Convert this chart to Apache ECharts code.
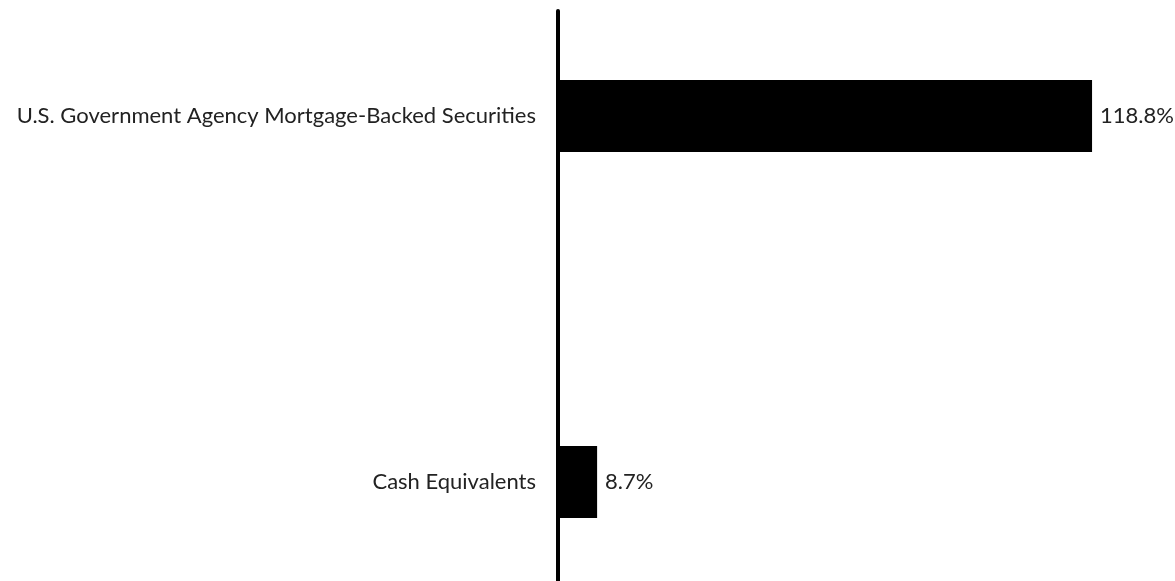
<!DOCTYPE html>
<html>
<head>
<meta charset="utf-8">
<script src="https://cdn.jsdelivr.net/npm/echarts@6/dist/echarts.min.js"></script>
<style>html,body{margin:0;padding:0;background:#fff;}#c{width:1175px;height:581px;}</style>
</head>
<body>
<div id="c"></div>
<script>
const categories = ['U.S. Government Agency Mortgage-Backed Securities', 'Cash Equivalents'];
const values = [118.8, 8.7];

const chart = echarts.init(document.getElementById('c'));
const font = 'Lato, "Noto Sans", sans-serif';
chart.setOption({
  animation: false,
  grid: [
    { left: 558, right: 32.6, top: 116, bottom: 99 },
    { left: 558, right: 32.6, top: 11, bottom: 0 }
  ],
  xAxis: [
    { type: 'value', gridIndex: 0, min: 0, max: 130, show: false },
    { type: 'value', gridIndex: 1, min: 0, max: 130, show: false }
  ],
  yAxis: [
    {
      type: 'category', gridIndex: 0, data: categories, inverse: true, boundaryGap: false,
      axisLine: { show: false }, axisTick: { show: false }, splitLine: { show: false },
      axisLabel: { color: '#222', fontSize: 22, fontFamily: font, margin: 22 }
    },
    {
      type: 'category', gridIndex: 1, data: [''],
      axisLine: { show: true, lineStyle: { color: '#000', width: 4 } },
      axisTick: { show: false }, axisLabel: { show: false }, splitLine: { show: false }
    }
  ],
  series: [{
    type: 'bar', xAxisIndex: 0, yAxisIndex: 0, clip: false,
    data: values, barWidth: 72,
    itemStyle: { color: '#000' },
    label: {
      show: true, position: 'right', distance: 8,
      color: '#222', fontSize: 22, fontFamily: font,
      formatter: p => p.value.toFixed(1) + '%'
    }
  }]
});
</script>
</body>
</html>
